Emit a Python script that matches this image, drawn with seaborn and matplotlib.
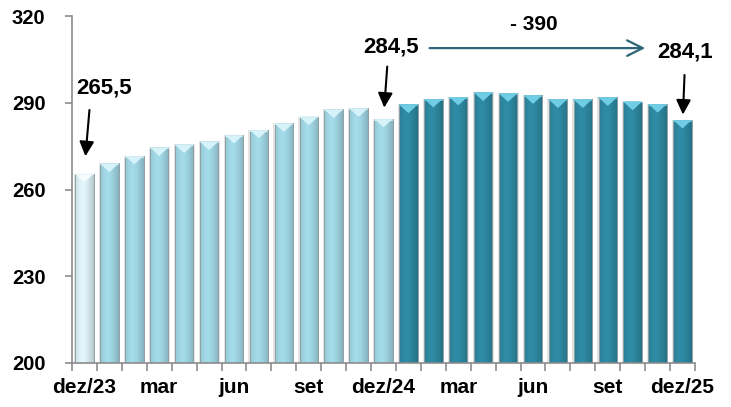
import numpy as np
import pandas as pd
import matplotlib
matplotlib.use("Agg")
import matplotlib.pyplot as plt
import matplotlib.colors as mcolors
from matplotlib.patches import Rectangle
import seaborn as sns

# ==========================================
# DATA
# ==========================================
months = ['dez/23', 'jan', 'fev', 'mar', 'abr', 'mai', 'jun', 'jul', 'ago', 'set', 'out', 'nov',
          'dez/24', 'jan', 'fev', 'mar', 'abr', 'mai', 'jun', 'jul', 'ago', 'set', 'out', 'nov', 'dez/25']
values = [265.5, 269.0, 271.7, 274.6, 275.6, 276.6, 278.9, 280.7, 282.9, 285.2, 287.7, 288.1,
          284.5, 289.4, 291.4, 292.1, 293.6, 293.3, 292.6, 291.2, 291.2, 291.9, 290.4, 289.6, 284.1]
tick_pos = [0, 3, 6, 9, 12, 15, 18, 21, 24]
y_ticks = [200, 230, 260, 290, 320]
highlight_labels = {0: '265,5', 12: '284,5', 24: '284,1'}
diff_label = '- 390'

FIRST_COLOR = '#dcf0f5'
LIGHT_COLOR = '#a0d6e4'
DARK_COLOR = '#2e88a0'

plt.rcParams['font.family'] = ['Liberation Sans', 'DejaVu Sans']
plt.rcParams['font.weight'] = 'bold'

colors = [FIRST_COLOR] + [LIGHT_COLOR] * 12 + [DARK_COLOR] * 12
tops = ['#f4fcfe'] + ['#d6f3fa'] * 12 + ['#6fcde6'] * 12

df = pd.DataFrame({'pos': np.arange(len(values)), 'valor': values})

fig = plt.figure(figsize=(7.31, 4.07), dpi=100)
ax = fig.add_axes([72 / 731, 44 / 407, (695 - 72) / 731, (363 - 16) / 407])

sns.barplot(data=df, x='pos', y='valor', hue='pos', palette=colors, legend=False,
            width=0.74, ax=ax, saturation=1)

ax.set_xlim(-0.5, len(values) - 0.5)
ax.set_ylim(200, 320)
ybase = ax.get_ylim()[0]


def shade(base, n=60):
    """horizontal 'cylinder' gradient for a bar"""
    rgb = np.array(mcolors.to_rgb(base))
    t = np.linspace(0, 1, n)
    f = 1.03 - 0.2 * (np.abs(t - 0.4) / 0.6) ** 1.5
    cols = np.clip(rgb[None, :] * f[:, None], 0, 1)
    return cols[None, :, :]


for patch, base, top in zip(ax.patches, colors, tops):
    x0, w = patch.get_x(), patch.get_width()
    h = patch.get_height()
    # soft grey shadow around the bar
    ax.add_patch(Rectangle((x0 - 0.05, ybase), w + 0.1, h - ybase, color='#e3e3e3',
                           zorder=1, lw=0))
    im = ax.imshow(shade(base), extent=[x0, x0 + w, ybase, h], aspect='auto',
                   zorder=2, interpolation='bicubic')
    im.set_clip_path(patch)
    patch.set_facecolor('none')
    patch.set_edgecolor('#90a0a5')
    patch.set_linewidth(0.7)
    patch.set_zorder(3)
    # small highlight triangle on top of the bar
    ax.fill([x0 + 0.03, x0 + w - 0.03, x0 + w / 2], [h - 0.3, h - 0.3, h - 3.0],
            color=top, zorder=4, lw=0)
    ax.plot([x0 + 0.03, x0 + w - 0.03], [h - 0.3, h - 0.3], color=top, lw=1.2, zorder=4)

ax.set_xlim(-0.5, len(values) - 0.5)
ax.set_ylim(200, 320)

# axes styling
for side in ['top', 'right']:
    ax.spines[side].set_visible(False)
for side in ['left', 'bottom']:
    ax.spines[side].set_color('#8c8c8c')
    ax.spines[side].set_linewidth(1.2)
    ax.spines[side].set_zorder(5)
ax.set_xlabel('')
ax.set_ylabel('')
ax.set_yticks(y_ticks)
ax.set_yticklabels([str(v) for v in y_ticks], fontsize=14.5, fontweight='bold')
ax.tick_params(axis='y', length=5, width=1.2, color='#8c8c8c', pad=14)
ax.set_xticks(tick_pos)
ax.set_xticklabels([months[i] for i in tick_pos], fontsize=15, fontweight='bold')
ax.set_xticks(np.arange(-0.5, len(values), 1), minor=True)
ax.tick_params(axis='x', which='major', length=0, pad=11)
ax.tick_params(axis='x', which='minor', length=6, width=1.2, color='#8c8c8c')

# annotations
arrow_k = dict(arrowstyle='-|>', color='black', lw=1.5, mutation_scale=22, shrinkA=0, shrinkB=0)
offsets = {0: (0.8, 29.5, 0.2, 22.0, 6.0), 12: (12.3, 24.8, 12.15, 18.0, 3.8),
           24: (24.1, 23.5, 24.08, 15.5, 1.8)}
for i, lab in highlight_labels.items():
    tx, ty, ax0, ay0, tip = offsets[i]
    ax.text(tx, values[i] + ty, lab, ha='center', va='center', fontsize=16, fontweight='bold')
    ax.annotate('', xy=(i + (ax0 - i) * 0.2, values[i] + tip), xytext=(ax0, values[i] + ay0),
                arrowprops=arrow_k, annotation_clip=False)

ax.annotate('', xy=(22.5, 308.9), xytext=(13.85, 308.9),
            arrowprops=dict(arrowstyle='->', color='#2b6678', lw=1.6, mutation_scale=28,
                            shrinkA=0, shrinkB=0), annotation_clip=False)
ax.text(18.05, 317.0, diff_label, ha='center', va='center', fontsize=15, fontweight='bold')

plt.savefig('out.png', dpi=100)
plt.close()
